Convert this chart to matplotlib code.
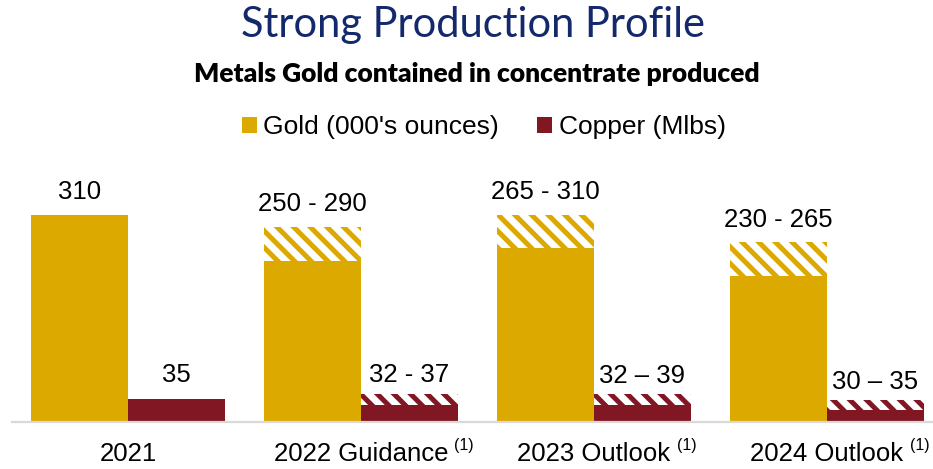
import matplotlib
matplotlib.use("Agg")
import matplotlib.pyplot as plt
from matplotlib.patches import Patch
import numpy as np

# data (bar heights, labels as printed)
categories = ["2021", "2022 Guidance", "2023 Outlook", "2024 Outlook"]
footnotes = ["", "(1)", "(1)", "(1)"]
gold_low = [310, 241, 261, 219]
gold_high = [310, 292, 310, 269]
copper_low = [35, 26, 26, 18]
copper_high = [35, 43, 42, 34]
gold_labels = ["310", "250 - 290", "265 - 310", "230 - 265"]
copper_labels = ["35", "32 - 37", "32 \u2013 39", "30 \u2013 35"]

GOLD = "#DCA900"
COPPER = "#801722"
NAVY = "#13296B"

plt.rcParams["font.family"] = ["Liberation Sans", "DejaVu Sans"]
plt.rcParams["hatch.linewidth"] = 3.6

fig = plt.figure(figsize=(9.33, 4.69), dpi=100)
ax = fig.add_axes([11.5 / 933, 46.7 / 469, 932 / 933, 234 / 469])

x = np.arange(len(categories))
w = 0.416

# solid parts
ax.bar(x - w / 2, gold_low, w, color=GOLD, linewidth=0)
ax.bar(x + w / 2, copper_low, w, color=COPPER, linewidth=0)

# hatched ranges
g_rng = np.array(gold_high) - np.array(gold_low)
c_rng = np.array(copper_high) - np.array(copper_low)
ax.bar(x - w / 2, g_rng, w, bottom=gold_low, facecolor="white",
       edgecolor=GOLD, hatch="\\\\", linewidth=0)
ax.bar(x + w / 2, c_rng, w, bottom=copper_low, facecolor="white",
       edgecolor=COPPER, hatch="\\\\", linewidth=0)

# value labels
for i in range(len(categories)):
    ax.annotate(gold_labels[i], (x[i] - w / 2, gold_high[i]), xytext=(0, 16.5),
                textcoords="offset points", ha="center", va="center", fontsize=18.5)
    off = 17 if i == 0 else 13
    ax.annotate(copper_labels[i], (x[i] + w / 2, copper_high[i]), xytext=(0, off),
                textcoords="offset points", ha="center", va="center", fontsize=18.5)

# category labels with footnote marks
for i, cat in enumerate(categories):
    t = ax.annotate(cat, (x[i], 0), xycoords=("data", "axes fraction"),
                    xytext=(0, -31.7), textcoords="offset pixels",
                    ha="center", va="center", fontsize=18.5)
    if footnotes[i]:
        ax.annotate(footnotes[i], (1, 1), xycoords=t, xytext=(6, 4),
                    textcoords="offset pixels", ha="left", va="top", fontsize=11.5)

ax.set_xlim(-0.5, 3.5)
ax.set_ylim(0, 350)
ax.set_xticks([])
ax.set_yticks([])
for s in ["top", "right", "left"]:
    ax.spines[s].set_visible(False)
ax.spines["bottom"].set_color("#D9D9D9")
ax.spines["bottom"].set_linewidth(1.6)

fig.text(0.5075, 1 - 37 / 469, "Strong Production Profile", ha="center", va="baseline",
         fontsize=30, color=NAVY, family="Lato")
fig.text(0.511, 1 - 81.7 / 469, "Metals Gold contained in concentrate produced",
         ha="center", va="baseline", fontsize=19, fontweight="heavy", family="Lato")

handles = [Patch(facecolor=GOLD, label="Gold (000's ounces)"),
           Patch(facecolor=COPPER, label="Copper (Mlbs)")]
fig.legend(handles=handles, loc="center", bbox_to_anchor=(0.5187, 1 - 127 / 469),
           ncol=2, frameon=False, fontsize=19, handlelength=0.55, handleheight=0.55,
           handletextpad=0.25, columnspacing=1.45)

fig.savefig("out.png", dpi=100)
